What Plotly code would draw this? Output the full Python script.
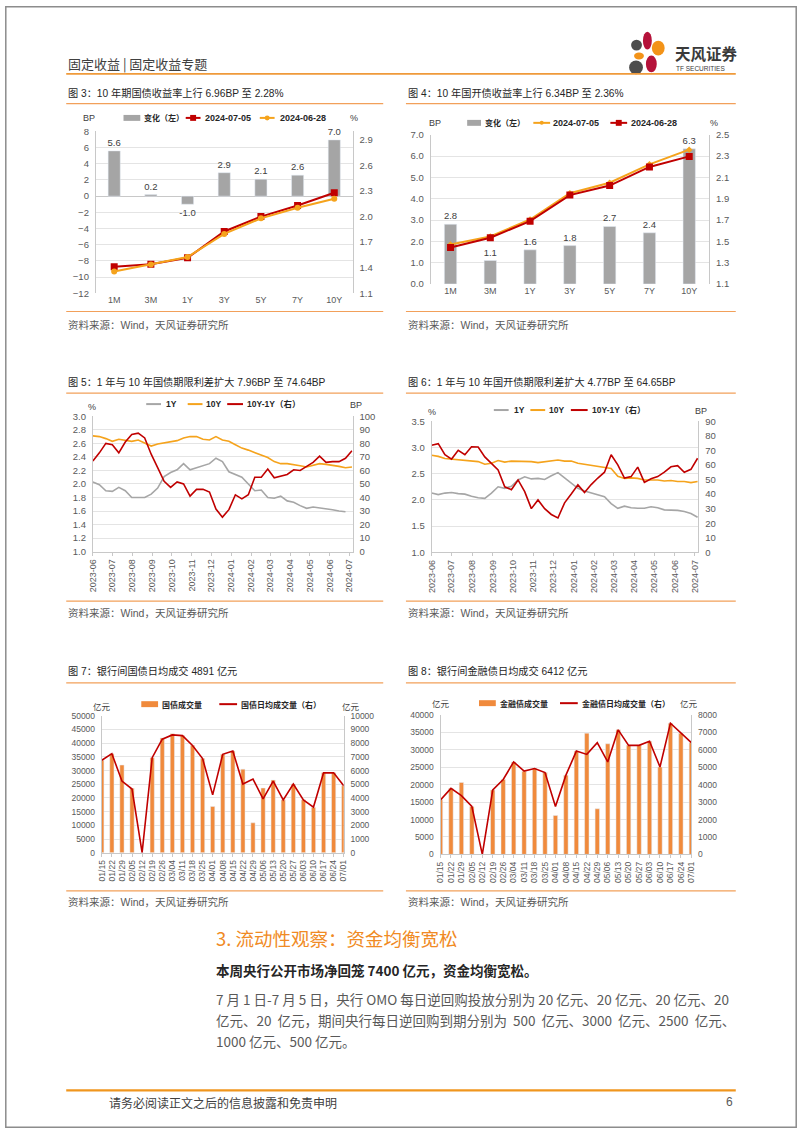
import plotly.graph_objects as go

W, H = 802, 1133
def px(x): return x / W
def py(y): return 1 - y / H

FONT = "Liberation Sans, Arial, Noto Sans CJK SC, sans-serif"
CJK = "Noto Sans CJK SC, Liberation Sans, sans-serif"

# ---------------- data ----------------
TENORS = ["1M", "3M", "1Y", "3Y", "5Y", "7Y", "10Y"]
GZ_CHG = [5.6, 0.2, -1.0, 2.9, 2.1, 2.6, 6.96]
GZ_0705 = [1.41, 1.44, 1.515, 1.825, 2.00, 2.13, 2.28]
GZ_0628 = [1.354, 1.438, 1.525, 1.796, 1.979, 2.104, 2.21]

GK_CHG = [2.8, 1.1, 1.6, 1.8, 2.7, 2.4, 6.34]
GK_0705 = [1.47, 1.545, 1.705, 1.952, 2.05, 2.222, 2.36]
GK_0628 = [1.442, 1.534, 1.689, 1.934, 2.023, 2.198, 2.297]

DATES = ["2023-06-01", "2023-06-11", "2023-06-21", "2023-07-01", "2023-07-11", "2023-07-21",
         "2023-07-31", "2023-08-10", "2023-08-20", "2023-08-30", "2023-09-09", "2023-09-19",
         "2023-09-29", "2023-10-09", "2023-10-19", "2023-10-29", "2023-11-08", "2023-11-18",
         "2023-11-28", "2023-12-08", "2023-12-18", "2023-12-28", "2024-01-07", "2024-01-17",
         "2024-01-27", "2024-02-06", "2024-02-16", "2024-02-26", "2024-03-07", "2024-03-17",
         "2024-03-27", "2024-04-06", "2024-04-16", "2024-04-26", "2024-05-06", "2024-05-16",
         "2024-05-26", "2024-06-05", "2024-06-15", "2024-06-25", "2024-07-05"]

GZ_1Y = [2.03, 1.99, 1.90, 1.89, 1.95, 1.90, 1.80, 1.80, 1.80, 1.85, 1.94, 2.11, 2.17, 2.21,
         2.30, 2.21, 2.24, 2.26, 2.30, 2.38, 2.33, 2.18, 2.14, 2.10, 2.00, 1.90, 1.91, 1.80,
         1.79, 1.82, 1.75, 1.73, 1.68, 1.64, 1.66, 1.65, 1.64, 1.62, 1.60, 1.59, None]
GZ_10Y = [2.71, 2.70, 2.67, 2.63, 2.66, 2.64, 2.63, 2.65, 2.61, 2.56, 2.59, 2.61, 2.63, 2.64,
          2.68, 2.70, 2.70, 2.66, 2.65, 2.70, 2.65, 2.63, 2.58, 2.53, 2.50, 2.46, 2.42, 2.39,
          2.33, 2.30, 2.30, 2.29, 2.27, 2.25, 2.27, 2.30, 2.29, 2.28, 2.26, 2.24, 2.25]
GZ_SPREAD = [67, 73, 80, 79, 73, 81, 86.5, 87.5, 84, 72, 62, 52, 47.5, 51.5, 50, 41, 46, 46,
             44, 31.5, 25.5, 31, 42, 39, 42, 55, 55, 61, 54.6, 55.8, 57, 60.5, 60, 63, 66,
             70.5, 66, 66.5, 66.5, 69, 74.6]

GK_1Y = [2.13, 2.10, 2.13, 2.14, 2.12, 2.11, 2.07, 2.04, 2.03, 2.13, 2.25, 2.22, 2.26, 2.38,
         2.44, 2.40, 2.41, 2.39, 2.46, 2.52, 2.42, 2.32, 2.22, 2.17, 2.13, 2.09, 2.06, 1.93,
         1.84, 1.88, 1.85, 1.84, 1.84, 1.87, 1.85, 1.81, 1.81, 1.80, 1.78, 1.74, 1.67]
GK_10Y = [2.85, 2.83, 2.79, 2.78, 2.77, 2.76, 2.75, 2.73, 2.68, 2.70, 2.75, 2.72, 2.74, 2.74,
          2.74, 2.73, 2.71, 2.73, 2.75, 2.76, 2.74, 2.74, 2.70, 2.68, 2.66, 2.63, 2.61, 2.60,
          2.45, 2.41, 2.42, 2.41, 2.38, 2.38, 2.38, 2.36, 2.37, 2.35, 2.35, 2.33, 2.35]
GK_SPREAD = [73.5, 74.6, 67, 64, 70, 67, 72.5, 72.3, 65.5, 61, 56.5, 45, 43, 49.7, 41.7, 30,
             36, 30, 26, 23.6, 34, 40, 46.3, 41, 46.5, 51, 55, 67, 60, 51, 52, 58.5, 48, 50.5,
             52, 55, 58.7, 59.5, 55, 57, 64.6]

MONTH_TICKS = ["2023-06-01", "2023-07-01", "2023-08-01", "2023-09-01", "2023-10-01",
               "2023-11-01", "2023-12-01", "2024-01-01", "2024-02-01", "2024-03-01",
               "2024-04-01", "2024-05-01", "2024-06-01", "2024-07-01"]

WEEKS = ["01/15", "01/22", "01/29", "02/05", "02/12", "02/19", "02/26", "03/04", "03/11",
         "03/18", "03/25", "04/01", "04/08", "04/15", "04/22", "04/29", "05/06", "05/13",
         "05/20", "05/27", "06/03", "06/10", "06/17", "06/24", "07/01"]
TB_VOL = [33750, 36150, 32000, 23500, 0, 34700, 41900, 43400, 42800, 39200, 34350, 16900,
          35900, 37100, 30500, 10900, 23600, 26500, 19300, 25100, 19300, 16500, 29200,
          29200, 24450]
TB_AVG = [6750, 7230, 5230, 4650, 0, 6940, 8290, 8600, 8550, 7830, 6870, 4220, 7180, 7420,
          5010, 5370, 3930, 5230, 3860, 5010, 3860, 3330, 5830, 5830, 4891]
FB_VOL = [15650, 18950, 20660, 13750, 0, 18500, 21500, 26550, 23900, 24650, 23500, 11180,
          22750, 29650, 34790, 13080, 31750, 35750, 31300, 31300, 32500, 25100, 37650,
          34800, 32060]
FB_AVG = [3130, 3790, 3375, 2750, 0, 3700, 4300, 5310, 4780, 4930, 4700, 2750, 4550, 5930,
          5740, 6410, 5310, 7150, 6260, 6260, 6500, 5020, 7530, 6960, 6412]

# ---------------- styles ----------------
RED = "#c00000"
ORANGE = "#f5a31c"
GRAYL = "#a6a6a6"
GRAYBAR = "#a5a5a5"
BARORANGE = "#f08a3c"
GRID = "#e4e4e4"
AXL = "#c8c8c8"
TICKC = "#595959"
RULE = "#f2a05a"

fig = go.Figure()
layout = dict(width=W, height=H, margin=dict(l=0, r=0, t=0, b=0),
              paper_bgcolor="white", plot_bgcolor="white",
              font=dict(family=FONT, size=10, color="#404040"), showlegend=False)

def yname(i):
    return "y" if i == 1 else f"y{i}"
def ykey(i):
    return "yaxis" if i == 1 else f"yaxis{i}"
def xname(k):
    return "x" if k == 1 else f"x{k}"
def xkey(k):
    return "xaxis" if k == 1 else f"xaxis{k}"

def setup(k, xdom, ydom, xcfg, lcfg, rcfg):
    L, R = 2 * k - 1, 2 * k
    base_x = dict(domain=[px(xdom[0]), px(xdom[1])], anchor=yname(L), showgrid=False,
                  zeroline=False, tickfont=dict(size=9, color=TICKC, family=FONT))
    base_x.update(xcfg)
    layout[xkey(k)] = base_x
    base_l = dict(domain=[py(ydom[1]), py(ydom[0])], anchor=xname(k), side="left",
                  showgrid=True, gridcolor=GRID, gridwidth=1, zeroline=False,
                  showline=True, linecolor=AXL, linewidth=1, ticks="",
                  ticklabelstandoff=4, tickfont=dict(size=9.5, color=TICKC, family=FONT))
    base_l.update(lcfg)
    layout[ykey(L)] = base_l
    base_r = dict(overlaying=yname(L), anchor=xname(k), side="right", showgrid=False,
                  zeroline=False, showline=True, linecolor=AXL, linewidth=1, ticks="",
                  ticklabelstandoff=4, tickfont=dict(size=9.5, color=TICKC, family=FONT))
    base_r.update(rcfg)
    layout[ykey(R)] = base_r
    return xname(k), yname(L), yname(R)

# ---- Chart 3 ----
xa, yl, yr = setup(1, (92, 352), (126.7, 290),
                   dict(type="category"),
                   dict(range=[-12, 8], dtick=2, zeroline=True, zerolinecolor=AXL,
                        zerolinewidth=1),
                   dict(range=[1.1, 3.0], tick0=1.1, dtick=0.3, tickformat=".1f"))
fig.add_trace(go.Bar(x=TENORS, y=GZ_CHG, name="变化（左）", marker_color=GRAYBAR, width=0.33,
                     texttemplate="%{y:.1f}", textposition="outside", cliponaxis=False,
                     constraintext="none", textfont=dict(size=9.5, color="#404040"),
                     xaxis=xa, yaxis=yl))
fig.add_trace(go.Scatter(x=TENORS, y=GZ_0705, name="2024-07-05", mode="lines+markers",
                         line=dict(color=RED, width=2),
                         marker=dict(symbol="square", size=7, color=RED),
                         xaxis=xa, yaxis=yr))
fig.add_trace(go.Scatter(x=TENORS, y=GZ_0628, name="2024-06-28", mode="lines+markers",
                         line=dict(color=ORANGE, width=2),
                         marker=dict(symbol="circle", size=6, color=ORANGE),
                         xaxis=xa, yaxis=yr))

# ---- Chart 4 ----
xa, yl, yr = setup(2, (431, 713), (130, 280.7),
                   dict(type="category"),
                   dict(range=[0, 7], dtick=1, tickformat=".1f"),
                   dict(range=[1.1, 2.5], tick0=1.1, dtick=0.2, tickformat=".1f"))
fig.add_trace(go.Bar(x=TENORS, y=GK_CHG, name="变化（左）", marker_color=GRAYBAR, width=0.31,
                     texttemplate="%{y:.1f}", textposition="outside", cliponaxis=False,
                     constraintext="none", textfont=dict(size=9.5, color="#404040"),
                     xaxis=xa, yaxis=yl))
fig.add_trace(go.Scatter(x=TENORS, y=GK_0705, name="2024-07-05", mode="lines+markers",
                         line=dict(color=ORANGE, width=2),
                         marker=dict(symbol="diamond", size=5, color=ORANGE),
                         xaxis=xa, yaxis=yr))
fig.add_trace(go.Scatter(x=TENORS, y=GK_0628, name="2024-06-28", mode="lines+markers",
                         line=dict(color=RED, width=2),
                         marker=dict(symbol="square", size=7, color=RED),
                         xaxis=xa, yaxis=yr))

# ---- Chart 5 / 6 ----
date_x = dict(type="date", tickvals=MONTH_TICKS, tickformat="%Y-%m", tickangle=-90,
              ticks="outside", ticklen=3, tickcolor=AXL, showline=True, linecolor=AXL,
              tickfont=dict(size=9, color=TICKC, family=FONT))
cfg5 = dict(date_x); cfg5["range"] = ["2023-06-01", "2024-07-06"]
xa, yl, yr = setup(3, (89, 352), (414.3, 551), cfg5,
                   dict(range=[1.0, 3.0], dtick=0.2, tickformat=".1f"),
                   dict(range=[0, 100], dtick=10))
fig.add_trace(go.Scatter(x=DATES, y=GZ_1Y, name="1Y", mode="lines",
                         line=dict(color=GRAYL, width=1.6), xaxis=xa, yaxis=yl))
fig.add_trace(go.Scatter(x=DATES, y=GZ_10Y, name="10Y", mode="lines",
                         line=dict(color=ORANGE, width=1.6), xaxis=xa, yaxis=yl))
fig.add_trace(go.Scatter(x=DATES, y=GZ_SPREAD, name="10Y-1Y（右）", mode="lines",
                         line=dict(color=RED, width=1.6), xaxis=xa, yaxis=yr))

cfg6 = dict(date_x); cfg6["range"] = ["2023-06-01", "2024-07-06"]
xa, yl, yr = setup(4, (432, 702), (419.3, 551.7), cfg6,
                   dict(range=[1.0, 3.5], dtick=0.5, tickformat=".1f"),
                   dict(range=[0, 90], dtick=10))
fig.add_trace(go.Scatter(x=DATES, y=GK_1Y, name="1Y", mode="lines",
                         line=dict(color=GRAYL, width=1.6), xaxis=xa, yaxis=yl))
fig.add_trace(go.Scatter(x=DATES, y=GK_10Y, name="10Y", mode="lines",
                         line=dict(color=ORANGE, width=1.6), xaxis=xa, yaxis=yl))
fig.add_trace(go.Scatter(x=DATES, y=GK_SPREAD, name="10Y-1Y（右）", mode="lines",
                         line=dict(color=RED, width=1.6), xaxis=xa, yaxis=yr))

# ---- Chart 7 / 8 ----
cat_x = dict(type="category", range=[0, 24], tickangle=-90, ticks="outside", ticklen=3,
             tickcolor=AXL, showline=True, linecolor=AXL,
             tickfont=dict(size=8.5, color=TICKC, family=FONT))
small = dict(size=8.5, color=TICKC, family=FONT)
xa, yl, yr = setup(5, (98, 343), (716.7, 855), dict(cat_x),
                   dict(range=[0, 50000], dtick=5000, tickformat="d", tickfont=small),
                   dict(range=[0, 10000], dtick=1000, tickformat="d", tickfont=small))
fig.add_trace(go.Bar(x=WEEKS, y=TB_VOL, name="国债成交量", marker_color=BARORANGE, width=0.42,
                     xaxis=xa, yaxis=yl))
fig.add_trace(go.Scatter(x=WEEKS, y=TB_AVG, name="国债日均成交量（右）", mode="lines",
                         line=dict(color=RED, width=1.6), xaxis=xa, yaxis=yr))

xa, yl, yr = setup(6, (441, 695), (716, 856.7), dict(cat_x),
                   dict(range=[0, 40000], dtick=5000, tickformat="d", tickfont=small),
                   dict(range=[0, 8000], dtick=1000, tickformat="d", tickfont=small))
fig.add_trace(go.Bar(x=WEEKS, y=FB_VOL, name="金融债成交量", marker_color=BARORANGE, width=0.42,
                     xaxis=xa, yaxis=yl))
fig.add_trace(go.Scatter(x=WEEKS, y=FB_AVG, name="金融债日均成交量（右）", mode="lines",
                         line=dict(color=RED, width=1.6), xaxis=xa, yaxis=yr))

# ---------------- annotations & shapes ----------------
ann = []
shapes = []

def text(x, y, s, size=10, color="#404040", family=CJK, anchor="left"):
    ann.append(dict(x=px(x), y=py(y), xref="paper", yref="paper", text=s, showarrow=False,
                    xanchor=anchor, yanchor="middle",
                    font=dict(size=size, color=color, family=family)))

def hline(x0, x1, y, color, width):
    shapes.append(dict(type="line", xref="paper", yref="paper", x0=px(x0), x1=px(x1),
                       y0=py(y), y1=py(y), line=dict(color=color, width=width)))

def box(x0, x1, y0, y1, color, kind="rect"):
    shapes.append(dict(type=kind, xref="paper", yref="paper", x0=px(x0), x1=px(x1),
                       y0=py(y1), y1=py(y0), fillcolor=color, line=dict(width=0)))

# legend helpers (compact legend like the source)
def leg_bar(x0, x1, y, color, label, tx):
    box(x0, x1, y - 3, y + 3, color)
    text(tx, y, "<b>" + label + "</b>", 8, "#262626", CJK)

def leg_line(x0, x1, y, color, label, tx, marker=None, size=6, fsize=9, family=FONT):
    hline(x0, x1, y, color, 2)
    c = (x0 + x1) / 2
    if marker == "square":
        box(c - size / 2, c + size / 2, y - size / 2, y + size / 2, color)
    elif marker == "circle":
        box(c - size / 2, c + size / 2, y - size / 2, y + size / 2, color, "circle")
    text(tx, y, "<b>" + label + "</b>", fsize, "#262626", family)

# header & logo
text(62, 58, "固定收益 | 固定收益专题", 13, "#404040")
text(676, 47, "<b>天风证券</b>", 15.5, "#3a3a3a")
text(677, 63, "TF SECURITIES", 6.5, "#3a3a3a", FONT)
box(634, 645, 34, 45, "#4d4d4d", "circle")
box(646, 655, 26, 44, "#b5123a", "circle")
box(655, 668, 35, 50, "#f39318", "circle")
box(637, 647, 47, 54, "#f39318", "circle")
box(632, 646, 55, 69, "#4d4d4d", "circle")
box(649, 660, 50, 67, "#b5123a", "circle")

TITLE_FONT = "Liberation Sans, Noto Sans CJK SC, sans-serif"
text(62, 88, "图 3：10 年期国债收益率上行 6.96BP 至 2.28%", 10.2, "#262626", TITLE_FONT)
text(406, 88, "图 4：10 年国开债收益率上行 6.34BP 至 2.36%", 10.2, "#262626", TITLE_FONT)
text(62, 380, "图 5：1 年与 10 年国债期限利差扩大 7.96BP 至 74.64BP", 10.2, "#262626", TITLE_FONT)
text(406, 380, "图 6：1 年与 10 年国开债期限利差扩大 4.77BP 至 64.65BP", 10.2, "#262626", TITLE_FONT)
text(62, 672, "图 7：银行间国债日均成交 4891 亿元", 10.2, "#262626", TITLE_FONT)
text(406, 672, "图 8：银行间金融债日均成交 6412 亿元", 10.2, "#262626", TITLE_FONT)

for (xx, yy) in [(62, 322), (406, 322), (62, 613), (406, 613), (62, 905), (406, 905)]:
    text(xx, yy, "资料来源：Wind，天风证券研究所", 10.5, "#595959", TITLE_FONT)

# units
text(85, 113, "BP", 9, "#404040", FONT, "center")
text(353, 113, "%", 9, "#404040", FONT, "center")
text(435, 118, "BP", 9, "#404040", FONT, "center")
text(718, 118, "%", 9, "#404040", FONT, "center")
text(88, 405, "%", 9, "#404040", FONT, "center")
text(355, 403, "BP", 9, "#404040", FONT, "center")
text(432, 410, "%", 9, "#404040", FONT, "center")
text(705, 409, "BP", 9, "#404040", FONT, "center")
text(98, 707, "亿元", 8.5, "#404040", CJK, "center")
text(350, 707, "亿元", 8.5, "#404040", CJK, "center")
text(442, 704, "亿元", 8.5, "#404040", CJK, "center")
text(693, 704, "亿元", 8.5, "#404040", CJK, "center")

# legends
leg_bar(120, 137, 113, GRAYBAR, "变化（左）", 139)
leg_line(183, 198, 113, RED, "2024-07-05", 200, "square", 6)
leg_line(258, 273, 113, ORANGE, "2024-06-28", 276, "circle", 5)

leg_bar(468, 482, 118, GRAYBAR, "变化（左）", 484)
leg_line(535, 552, 118, ORANGE, "2024-07-05", 553, "circle", 4)
leg_line(613, 630, 118, RED, "2024-06-28", 632, "square", 6)

leg_line(143, 158, 402, GRAYL, "1Y", 161, fsize=8.5)
leg_line(185, 200, 402, ORANGE, "10Y", 202, fsize=8.5)
leg_line(225, 241, 402, RED, "10Y-1Y（右）", 243, fsize=8.5)

leg_line(495, 510, 408, GRAYL, "1Y", 513, fsize=8.5)
leg_line(532, 547, 408, ORANGE, "10Y", 549, fsize=8.5)
leg_line(573, 590, 408, RED, "10Y-1Y（右）", 592, fsize=8.5)

leg_bar(138, 155, 705, BARORANGE, "国债成交量", 157)
leg_line(217, 235, 705, RED, "国债日均成交量（右）", 237, fsize=8, family=CJK)

leg_bar(480, 497, 704, BARORANGE, "金融债成交量", 499)
leg_line(562, 580, 704, RED, "金融债日均成交量（右）", 582, fsize=8, family=CJK)

# body text
text(212, 941, "3. 流动性观察：资金均衡宽松", 18.5, "#f08a24")
text(212, 973, "<b>本周央行公开市场净回笼 7400 亿元，资金均衡宽松。</b>", 13.5, "#262626")
text(212, 1003, "7 月 1 日-7 月 5 日，央行 OMO 每日逆回购投放分别为 20 亿元、20 亿元、20 亿元、20",
     13.5, "#595959")
text(212, 1024, "亿元、20  亿元，期间央行每日逆回购到期分别为  500  亿元、3000  亿元、2500  亿元、",
     13.5, "#595959")
text(212, 1045, "1000 亿元、500 亿元。", 13.5, "#595959")
text(103, 1107, "请务必阅读正文之后的信息披露和免责申明", 12, "#404040")
text(734, 1107, "6", 12, "#595959", FONT, "center")

# rules & border
shapes.append(dict(type="rect", xref="paper", yref="paper", x0=px(0.8), x1=px(801.2),
                   y0=py(1132.2), y1=py(0.8), line=dict(color="#8c8c8c", width=1.5)))
hline(62, 740, 68.5, "#ef9a3a", 1.6)
for yy in (98.5, 391, 683.5, 308.5, 601, 893.5):
    hline(62, 383, yy, RULE, 1.2)
    hline(406, 740, yy, RULE, 1.2)
hline(62, 740, 1095, "#f0961e", 2.2)

layout["annotations"] = ann
layout["shapes"] = shapes
fig.update_layout(**layout)
fig.write_html("out.html", config={"displayModeBar": False},
               post_script="document.body.style.margin='0';document.body.style.overflow='hidden';")
